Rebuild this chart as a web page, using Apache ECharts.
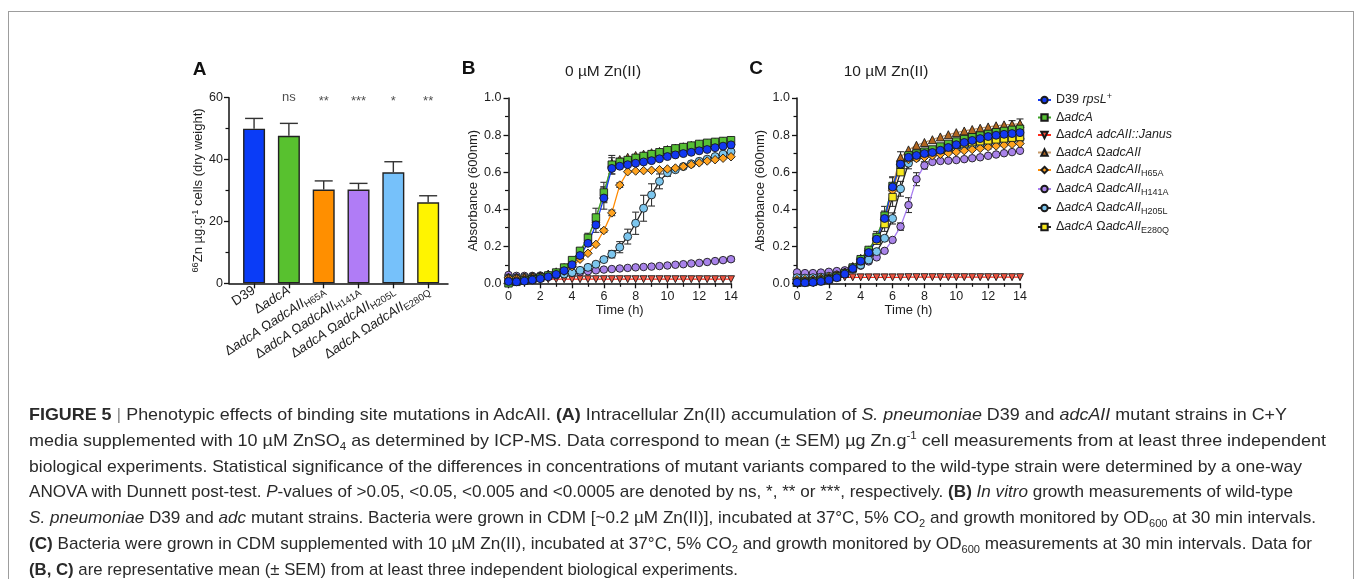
<!DOCTYPE html>
<html><head><meta charset="utf-8">
<script src="https://cdn.jsdelivr.net/npm/echarts@6/dist/echarts.min.js"></script>
<style>
html,body{margin:0;padding:0;background:#fff;}
#wrap{position:relative;width:1355px;height:579px;overflow:hidden;background:#fff;}
#chart{position:absolute;left:0;top:0;width:1355px;height:579px;}
#frame{position:absolute;left:8px;top:11px;width:1346px;height:620px;border:1.5px solid #9d9d9d;border-bottom:none;box-sizing:border-box;}
#cap{position:absolute;left:29px;top:402px;font-family:'Liberation Sans',Arial,sans-serif;font-size:17px;line-height:25.8px;color:#2a2a2a;white-space:nowrap;}
#cap div{transform-origin:0 50%;display:block;width:max-content;}
#cap sub,#cap sup{font-size:11px;line-height:0;}
#cap .sep{color:#8a8a8a;}
</style></head>
<body><div id="wrap"><div id="frame"></div><div id="chart"></div>
<div id="cap">
<div><b>FIGURE 5</b> <span class="sep">|</span> Phenotypic effects of binding site mutations in AdcAII. <b>(A)</b> Intracellular Zn(II) accumulation of <i>S. pneumoniae</i> D39 and <i>adcAII</i> mutant strains in C+Y</div>
<div>media supplemented with 10 µM ZnSO<sub>4</sub> as determined by ICP-MS. Data correspond to mean (± SEM) µg Zn.g<sup>-1</sup> cell measurements from at least three independent</div>
<div>biological experiments. Statistical significance of the differences in concentrations of mutant variants compared to the wild-type strain were determined by a one-way</div>
<div>ANOVA with Dunnett post-test. <i>P</i>-values of &gt;0.05, &lt;0.05, &lt;0.005 and &lt;0.0005 are denoted by ns, *, ** or ***, respectively. <b>(B)</b> <i>In vitro</i> growth measurements of wild-type</div>
<div><i>S. pneumoniae</i> D39 and <i>adc</i> mutant strains. Bacteria were grown in CDM [~0.2 µM Zn(II)], incubated at 37°C, 5% CO<sub>2</sub> and growth monitored by OD<sub>600</sub> at 30 min intervals.</div>
<div><b>(C)</b> Bacteria were grown in CDM supplemented with 10 µM Zn(II), incubated at 37°C, 5% CO<sub>2</sub> and growth monitored by OD<sub>600</sub> measurements at 30 min intervals. Data for</div>
<div><b>(B, C)</b> are representative mean (± SEM) from at least three independent biological experiments.</div>
</div>
</div>
<script>
// ---------------- DATA ----------------
const barCategories = ['D39', 'ΔadcA', 'ΔadcA ΩadcAII H65A', 'ΔadcA ΩadcAII H141A', 'ΔadcA ΩadcAII H205L', 'ΔadcA ΩadcAII E280Q'];
const barValues = [50.0, 47.7, 30.3, 30.3, 35.9, 26.2];
const barSEM = [3.3, 4.0, 2.8, 2.0, 3.4, 2.1];
const sigLabels = ['', 'ns', '**', '***', '*', '**'];
const barYTicks = [0, 20, 40, 60];

const time = [0,0.5,1,1.5,2,2.5,3,3.5,4,4.5,5,5.5,6,6.5,7,7.5,8,8.5,9,9.5,10,10.5,11,11.5,12,12.5,13,13.5,14];

// Panel B: 0 µM Zn(II)
const B_D39   = [0.010,0.008,0.012,0.018,0.025,0.035,0.048,0.068,0.100,0.150,0.216,0.315,0.460,0.620,0.632,0.640,0.648,0.655,0.662,0.672,0.684,0.693,0.700,0.707,0.715,0.722,0.732,0.740,0.747];
const B_dA    = [0.000,0.008,0.015,0.022,0.030,0.042,0.058,0.085,0.125,0.175,0.245,0.355,0.490,0.640,0.655,0.665,0.677,0.687,0.697,0.707,0.718,0.728,0.735,0.743,0.752,0.758,0.763,0.768,0.772];
const B_Janus = [0.026,0.024,0.023,0.023,0.022,0.022,0.022,0.022,0.022,0.022,0.022,0.022,0.022,0.022,0.022,0.022,0.022,0.022,0.022,0.022,0.022,0.022,0.022,0.022,0.022,0.022,0.022,0.022,0.022];
const B_OA    = [0.030,0.030,0.032,0.035,0.040,0.050,0.062,0.085,0.120,0.170,0.240,0.350,0.480,0.648,0.668,0.680,0.690,0.697,0.705,0.712,0.722,0.730,0.737,0.745,0.752,0.757,0.762,0.766,0.770];
const B_H65A  = [0.030,0.030,0.032,0.035,0.038,0.045,0.052,0.065,0.090,0.130,0.162,0.210,0.285,0.380,0.530,0.602,0.606,0.608,0.610,0.613,0.617,0.622,0.630,0.640,0.650,0.660,0.667,0.675,0.683];
const B_H141A = [0.045,0.040,0.040,0.040,0.042,0.044,0.047,0.050,0.055,0.060,0.065,0.070,0.074,0.077,0.080,0.083,0.086,0.088,0.090,0.093,0.096,0.100,0.103,0.107,0.110,0.115,0.120,0.125,0.130];
const B_H205L = [0.030,0.030,0.032,0.034,0.037,0.040,0.045,0.050,0.058,0.070,0.086,0.103,0.128,0.157,0.195,0.252,0.324,0.405,0.477,0.550,0.597,0.613,0.630,0.645,0.658,0.670,0.684,0.697,0.710];

// Panel C: 10 µM Zn(II)
const C_D39   = [0.005,0.003,0.005,0.010,0.018,0.030,0.050,0.080,0.120,0.166,0.238,0.350,0.520,0.643,0.680,0.690,0.700,0.706,0.718,0.733,0.748,0.760,0.771,0.781,0.792,0.799,0.804,0.808,0.813];
const C_dA    = [0.003,0.005,0.008,0.013,0.022,0.035,0.055,0.085,0.130,0.180,0.250,0.365,0.525,0.640,0.690,0.700,0.710,0.722,0.738,0.752,0.765,0.778,0.788,0.797,0.806,0.815,0.822,0.828,0.833];
const C_Janus = [0.032,0.032,0.032,0.032,0.032,0.032,0.032,0.032,0.032,0.032,0.032,0.032,0.032,0.032,0.033,0.033,0.033,0.033,0.033,0.033,0.033,0.033,0.033,0.033,0.033,0.033,0.033,0.033,0.033];
const C_OA    = [0.005,0.010,0.015,0.022,0.030,0.042,0.060,0.090,0.135,0.180,0.250,0.360,0.530,0.680,0.720,0.745,0.760,0.775,0.790,0.802,0.813,0.822,0.830,0.837,0.844,0.850,0.855,0.858,0.862];
const C_H65A  = [0.020,0.020,0.022,0.028,0.035,0.045,0.060,0.088,0.130,0.175,0.240,0.345,0.500,0.640,0.668,0.673,0.680,0.688,0.696,0.703,0.709,0.716,0.722,0.728,0.735,0.741,0.746,0.750,0.754];
const C_H141A = [0.059,0.055,0.055,0.058,0.062,0.066,0.070,0.080,0.095,0.118,0.140,0.175,0.234,0.306,0.422,0.562,0.636,0.655,0.660,0.662,0.665,0.670,0.675,0.680,0.688,0.695,0.702,0.708,0.715];
const C_H205L = [0.030,0.028,0.030,0.033,0.038,0.045,0.055,0.075,0.099,0.126,0.171,0.243,0.350,0.510,0.648,0.678,0.690,0.698,0.708,0.718,0.728,0.737,0.745,0.752,0.758,0.764,0.770,0.775,0.780];
const C_E280Q = [0.010,0.010,0.012,0.018,0.025,0.035,0.052,0.080,0.120,0.170,0.230,0.320,0.465,0.600,0.680,0.695,0.708,0.718,0.728,0.736,0.748,0.755,0.762,0.767,0.772,0.777,0.782,0.786,0.790];

// SEM (sparse: [time, sem])
const errB_D39   = [[5,0.015],[5.5,0.04],[6,0.06],[6.5,0.03]];
const errB_dA    = [[4.5,0.015],[5,0.025],[5.5,0.05],[6,0.055],[6.5,0.05],[7,0.02]];
const errB_OA    = [[6,0.04],[6.5,0.03]];
const errB_H65A  = [[6,0.01],[6.5,0.015],[7,0.012]];
const errB_H141A = [[13.5,0.01],[14,0.012]];
const errB_H205L = [[6.5,0.02],[7,0.03],[7.5,0.04],[8,0.06],[8.5,0.07],[9,0.06],[9.5,0.04],[10,0.02]];
const errC_D39   = [[5,0.02],[5.5,0.04],[6,0.05]];
const errC_dA    = [[5,0.03],[5.5,0.05],[6,0.05],[14,0.02]];
const errC_OA    = [[6.5,0.03],[13.5,0.02],[14,0.025]];
const errC_H65A  = [[12,0.01]];
const errC_H141A = [[6.5,0.02],[7,0.04],[7.5,0.035],[8,0.02]];
const errC_H205L = [[6,0.03],[6.5,0.04],[7,0.03]];
const errC_E280Q = [[5.5,0.04],[6,0.05]];

const strainNames = ['D39 rpsL+', 'ΔadcA', 'ΔadcA adcAII::Janus', 'ΔadcA ΩadcAII', 'ΔadcA ΩadcAII H65A', 'ΔadcA ΩadcAII H141A', 'ΔadcA ΩadcAII H205L', 'ΔadcA ΩadcAII E280Q'];

// ---------------- STYLE ----------------
const FF = "'Liberation Sans', Arial, Helvetica, sans-serif";
const TXT = '#1e1e1e';
const barColors = ['#0a3cf7', '#58c12f', '#ff8f00', '#b07cf6', '#76c1fa', '#fff400'];
const downTri = 'path://M0,0 L10,0 L5,9 Z';
const strainStyle = {
  'D39 rpsL+':           {symbol:'circle',   color:'#1238f2', line:'#1238f2', size:8},
  'ΔadcA':               {symbol:'rect',     color:'#56c034', line:'#3fa52a', size:7.5},
  'ΔadcA adcAII::Janus': {symbol:downTri,    color:'#f0533f', line:'#ff2a1a', size:7},
  'ΔadcA ΩadcAII':       {symbol:'triangle', color:'#b2661f', line:'#c79a6a', size:8},
  'ΔadcA ΩadcAII H65A':  {symbol:'diamond',  color:'#ffa320', line:'#ff8a00', size:8.5},
  'ΔadcA ΩadcAII H141A': {symbol:'circle',   color:'#a983ea', line:'#a77cf0', size:7.5},
  'ΔadcA ΩadcAII H205L': {symbol:'circle',   color:'#7cc6ee', line:'#222222', size:8},
  'ΔadcA ΩadcAII E280Q': {symbol:'rect',     color:'#f7e81e', line:'#222222', size:7.5}
};
function makeRich(fs){
  return {
    n:{fontFamily:FF, fontSize:fs, color:TXT},
    i:{fontFamily:FF, fontSize:fs, color:TXT, fontStyle:'italic'},
    sub:{fontFamily:FF, fontSize:fs*0.72, color:TXT, padding:[Math.round(fs*0.55),0,0,0]},
    sup:{fontFamily:FF, fontSize:fs*0.72, color:TXT, padding:[0,0,Math.round(fs*0.55),0]}
  };
}
const barLabelRich = {
  'D39':'{n|D39}',
  'ΔadcA':'{n|Δ}{i|adcA}',
  'ΔadcA ΩadcAII H65A':'{n|Δ}{i|adcA }{n|Ω}{i|adcAII}{sub|H65A}',
  'ΔadcA ΩadcAII H141A':'{n|Δ}{i|adcA }{n|Ω}{i|adcAII}{sub|H141A}',
  'ΔadcA ΩadcAII H205L':'{n|Δ}{i|adcA }{n|Ω}{i|adcAII}{sub|H205L}',
  'ΔadcA ΩadcAII E280Q':'{n|Δ}{i|adcA }{n|Ω}{i|adcAII}{sub|E280Q}'
};
const legendRich = {
  'D39 rpsL+':'{n|D39 }{i|rpsL}{sup|+}',
  'ΔadcA':'{n|Δ}{i|adcA}',
  'ΔadcA adcAII::Janus':'{n|Δ}{i|adcA adcAII::Janus}',
  'ΔadcA ΩadcAII':'{n|Δ}{i|adcA }{n|Ω}{i|adcAII}',
  'ΔadcA ΩadcAII H65A':'{n|Δ}{i|adcA }{n|Ω}{i|adcAII}{sub|H65A}',
  'ΔadcA ΩadcAII H141A':'{n|Δ}{i|adcA }{n|Ω}{i|adcAII}{sub|H141A}',
  'ΔadcA ΩadcAII H205L':'{n|Δ}{i|adcA }{n|Ω}{i|adcAII}{sub|H205L}',
  'ΔadcA ΩadcAII E280Q':'{n|Δ}{i|adcA }{n|Ω}{i|adcAII}{sub|E280Q}'
};

function axisBase(){
  return {
    axisLine:{show:true, onZero:false, lineStyle:{color:'#111', width:1.5}},
    axisTick:{show:true, inside:false, length:5, lineStyle:{color:'#111', width:1.3}},
    minorTick:{show:true, splitNumber:2, length:3.5, lineStyle:{color:'#111', width:1.2}},
    splitLine:{show:false}, minorSplitLine:{show:false},
    axisLabel:{color:TXT, fontSize:12.5, fontFamily:FF, margin:7},
    nameTextStyle:{color:TXT, fontSize:13, fontFamily:FF}
  };
}

function lineSeries(name, values, gi){
  const s = strainStyle[name];
  return {
    type:'line', name, xAxisIndex:gi, yAxisIndex:gi,
    data: time.map((t,i)=>[t, values[i]]),
    symbol:s.symbol, symbolSize:s.size, showAllSymbol:true,
    itemStyle:{color:s.color, borderColor:'#1a1a1a', borderWidth:0.9},
    lineStyle:{color:s.line, width:1.3},
    emphasis:{disabled:true}, z:3
  };
}
function errSeries(values, errs, gi){
  return {
    type:'custom', name:'sem', xAxisIndex:gi, yAxisIndex:gi, z:2, silent:true,
    data: errs.map(([t,e])=>[t, values[time.indexOf(t)], e]),
    renderItem:(params, api)=>{
      const x=api.value(0), y=api.value(1), e=api.value(2);
      const top=api.coord([x,y+e]), bot=api.coord([x,y-e]);
      const w=3.5, st={stroke:'#333', lineWidth:1.1};
      return {type:'group', children:[
        {type:'line', shape:{x1:top[0],y1:top[1],x2:bot[0],y2:bot[1]}, style:st},
        {type:'line', shape:{x1:top[0]-w,y1:top[1],x2:top[0]+w,y2:top[1]}, style:st},
        {type:'line', shape:{x1:bot[0]-w,y1:bot[1],x2:bot[0]+w,y2:bot[1]}, style:st}
      ]};
    }
  };
}

const chart = echarts.init(document.getElementById('chart'), null, {renderer:'canvas'});

const xA = Object.assign(axisBase(), {
  gridIndex:0, type:'value', min:-0.72, max:5.57,
  axisTick:{show:true, length:5, customValues:[0,1,2,3,4,5], lineStyle:{color:'#111', width:1.3}},
  minorTick:{show:false},
  axisLabel:{show:true, customValues:[0,1,2,3,4,5], rotate:33, margin:6,
    formatter:(v)=>barLabelRich[barCategories[Math.round(v)]] || '', rich:makeRich(13.5)}
});
const yA = Object.assign(axisBase(), {
  gridIndex:0, type:'value', min:0, max:60, interval:20,
  name:'{sup|66}{n|Zn µg.g}{sup|-1}{n| cells (dry weight)}', nameLocation:'middle', nameGap:22, nameRotate:90,
  nameTextStyle:{rich:makeRich(13)}
});
yA.axisLabel = {color:TXT, fontSize:12.5, fontFamily:FF, margin:6, formatter:(v)=> barYTicks.includes(v) ? String(v) : ''};

function growthX(gi){
  return Object.assign(axisBase(), {gridIndex:gi, type:'value', min:0, max:14, interval:2,
    name:'Time (h)', nameLocation:'middle', nameGap:21});
}
function growthY(gi, gap){
  const a = Object.assign(axisBase(), {gridIndex:gi, type:'value', min:0, max:1.0, interval:0.2,
    name:'Absorbance (600nm)', nameLocation:'middle', nameGap:gap, nameRotate:90});
  a.axisLabel = Object.assign({}, a.axisLabel, {formatter:(v)=>v.toFixed(1)});
  return a;
}

const series = [];
// Panel A
series.push({
  type:'bar', xAxisIndex:0, yAxisIndex:0, barWidth:22, z:2,
  data: barValues.map((v,i)=>({value:[i,v], itemStyle:{color:barColors[i]}})),
  itemStyle:{borderColor:'#222', borderWidth:1.4}, emphasis:{disabled:true}
});
series.push({
  type:'custom', name:'barsem', xAxisIndex:0, yAxisIndex:0, z:1, silent:true,
  data: barValues.map((v,i)=>[i, v, barSEM[i]]),
  renderItem:(params, api)=>{
    const x=api.value(0), y=api.value(1), e=api.value(2);
    const b=api.coord([x,y]), t=api.coord([x,y+e]); const w=9, st={stroke:'#333', lineWidth:1.4};
    return {type:'group', children:[
      {type:'line', shape:{x1:b[0],y1:b[1],x2:t[0],y2:t[1]}, style:st},
      {type:'line', shape:{x1:t[0]-w,y1:t[1],x2:t[0]+w,y2:t[1]}, style:st}
    ]};
  }
});
series.push({
  type:'scatter', xAxisIndex:0, yAxisIndex:0, symbolSize:1, itemStyle:{color:'rgba(0,0,0,0)'}, silent:true,
  data: sigLabels.map((s,i)=>({value:[i,60], label:{offset:[0, s.indexOf('*')>=0 ? 4 : 0]}})),
  label:{show:true, position:'inside', color:TXT, fontSize:13, fontFamily:FF, formatter:(p)=>sigLabels[p.dataIndex]}
});
// Panel B
[[strainNames[2],B_Janus],[strainNames[5],B_H141A],[strainNames[6],B_H205L],[strainNames[4],B_H65A],[strainNames[3],B_OA],[strainNames[1],B_dA],[strainNames[0],B_D39]]
  .forEach(([n,d])=>series.push(lineSeries(n,d,1)));
[[B_D39,errB_D39],[B_dA,errB_dA],[B_OA,errB_OA],[B_H65A,errB_H65A],[B_H141A,errB_H141A],[B_H205L,errB_H205L]]
  .forEach(([d,e])=>series.push(errSeries(d,e,1)));
// Panel C
[[strainNames[2],C_Janus],[strainNames[5],C_H141A],[strainNames[6],C_H205L],[strainNames[4],C_H65A],[strainNames[7],C_E280Q],[strainNames[3],C_OA],[strainNames[1],C_dA],[strainNames[0],C_D39]]
  .forEach(([n,d])=>series.push(lineSeries(n,d,2)));
[[C_D39,errC_D39],[C_dA,errC_dA],[C_OA,errC_OA],[C_H65A,errC_H65A],[C_H141A,errC_H141A],[C_H205L,errC_H205L],[C_E280Q,errC_E280Q]]
  .forEach(([d,e])=>series.push(errSeries(d,e,2)));

const option = {
  animation:false,
  backgroundColor:'transparent',
  grid:[
    {left:229, top:97.7, width:219, height:185.6, containLabel:false, outerBoundsMode:'none'},
    {left:508.5, top:98, width:222.5, height:185.3, containLabel:false, outerBoundsMode:'none'},
    {left:797, top:98, width:223, height:185.3, containLabel:false, outerBoundsMode:'none'}
  ],
  xAxis:[xA, growthX(1), growthX(2)],
  yAxis:[yA, growthY(1, 29), growthY(2, 30)],
  legend:{
    show:true, orient:'vertical', left:1032, top:87, itemGap:4.5, itemWidth:13, itemHeight:8,
    selectedMode:false, data:strainNames,
    formatter:(name)=>legendRich[name],
    textStyle:{rich:makeRich(12.5), padding:[0,0,0,0]}
  },
  graphic:[
    {type:'text', x:199.5, y:70, style:{text:'A', font:"bold 19px 'Liberation Sans', Arial", fill:'#111', textAlign:'center', textVerticalAlign:'middle'}},
    {type:'text', x:468.5, y:68.5, style:{text:'B', font:"bold 19px 'Liberation Sans', Arial", fill:'#111', textAlign:'center', textVerticalAlign:'middle'}},
    {type:'text', x:756, y:68.5, style:{text:'C', font:"bold 19px 'Liberation Sans', Arial", fill:'#111', textAlign:'center', textVerticalAlign:'middle'}},
    {type:'text', x:603, y:71.5, style:{text:'0 µM Zn(II)', font:"15.5px 'Liberation Sans', Arial", fill:TXT, textAlign:'center', textVerticalAlign:'middle'}},
    {type:'text', x:886, y:71.5, style:{text:'10 µM Zn(II)', font:"15.5px 'Liberation Sans', Arial", fill:TXT, textAlign:'center', textVerticalAlign:'middle'}}
  ],
  series
};
chart.setOption(option);

// fit caption lines to the reference line ends
const capEnds = [1287, 1326, 1302, 1293, 1316, 1312, 738];
const capLeft = 29;
document.querySelectorAll('#cap > div').forEach((el, i)=>{
  const w = el.getBoundingClientRect().width;
  if (w > 0) el.style.transform = 'scaleX(' + ((capEnds[i]-capLeft)/w).toFixed(4) + ')';
});
</script>
</body></html>
